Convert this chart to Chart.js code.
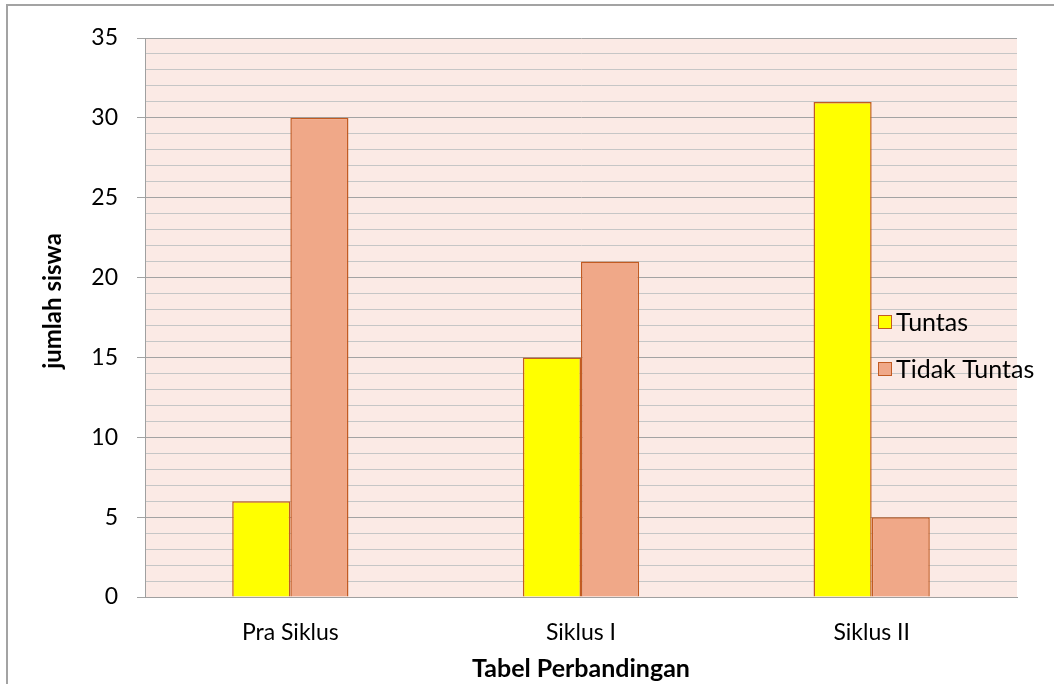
<!DOCTYPE html>
<html>
<head>
<meta charset="utf-8">
<script src="https://cdn.jsdelivr.net/npm/chart.js@4"></script>
<style>
  html, body { margin: 0; padding: 0; background: #fff; }
  #wrap { position: relative; width: 1054px; height: 684px; overflow: hidden; }
  #frame { position: absolute; left: 6px; top: 4px; right: -10px; bottom: -10px;
           border-left: 2px solid #a3a3a3; border-top: 2px solid #a3a3a3; }
  canvas { position: absolute; left: 0; top: 0; }
</style>
</head>
<body>
<div id="wrap">
  <div id="frame"></div>
  <canvas id="chart" width="1054" height="684"></canvas>
</div>
<script>
const categories = ["Pra Siklus", "Siklus I", "Siklus II"];
const tuntas = [6, 15, 31];
const tidakTuntas = [30, 21, 5];
const seriesNames = ["Tuntas", "Tidak Tuntas"];
const yTitle = "jumlah siswa";

const font = "Lato, 'Open Sans', sans-serif";
const edge = "#c25b22";

const plotBg = {
  id: "plotBg",
  beforeDraw(chart) {
    const { ctx, chartArea: a } = chart;
    ctx.save();
    ctx.fillStyle = "#fbeae5";
    ctx.fillRect(a.left, a.top, a.right - a.left, a.bottom - a.top);
    ctx.restore();
  }
};

// legend sits on top of the plot, right side; y title is a bit above centre
const extras = {
  id: "extras",
  afterDraw(chart) {
    const { ctx } = chart;
    const colors = ["#ffff00", "#f0a888"];
    const ys = [322, 369];
    ctx.save();
    ctx.font = "25px " + font;
    ctx.textBaseline = "middle";
    seriesNames.forEach((name, i) => {
      ctx.fillStyle = colors[i];
      ctx.fillRect(878.5, ys[i] - 6.5, 13, 13);
      ctx.strokeStyle = edge;
      ctx.lineWidth = 1;
      ctx.strokeRect(878.5, ys[i] - 6.5, 13, 13);
      ctx.fillStyle = "#000";
      ctx.fillText(name, 896, ys[i] + 1);
    });
    ctx.translate(53, 301);
    ctx.rotate(-Math.PI / 2);
    ctx.font = "bold 24px " + font;
    ctx.textAlign = "center";
    ctx.fillText(yTitle, 0, 0);
    ctx.restore();
  }
};

new Chart(document.getElementById("chart"), {
  type: "bar",
  data: {
    labels: categories,
    datasets: [
      { label: seriesNames[0], data: tuntas, backgroundColor: "#ffff00",
        borderColor: edge, borderWidth: 1.5 },
      { label: seriesNames[1], data: tidakTuntas, backgroundColor: "#f0a888",
        borderColor: edge, borderWidth: 1.5 }
    ]
  },
  options: {
    responsive: false,
    animation: false,
    layout: { padding: { top: 38, right: 37, left: 0, bottom: 0 } },
    datasets: { bar: { categoryPercentage: 0.4, barPercentage: 1 } },
    plugins: { legend: { display: false }, tooltip: { enabled: false } },
    scales: {
      x: {
        grid: { display: false },
        border: { display: true, color: "#a0a0a0" },
        ticks: { color: "#000", font: { family: font, size: 23 }, padding: 14 },
        title: { display: true, text: "Tabel Perbandingan", color: "#000",
                 font: { family: font, size: 25, weight: "bold" }, padding: { bottom: 0 } },
        afterFit(s) { s.height = 87; }
      },
      y: {
        min: 0, max: 35,
        border: { display: true, color: "#a0a0a0" },
        grid: {
          color: c => (c.tick && c.tick.value % 5 === 0) ? "#a3a3a3" : "#c6c6c6",
          tickColor: c => (c.tick && c.tick.value % 5 === 0) ? "#a3a3a3" : "rgba(0,0,0,0)",
          tickLength: 8
        },
        ticks: {
          stepSize: 1, autoSkip: false, color: "#000", padding: 19,
          font: { family: font, size: 23 },
          callback: v => (v % 5 === 0 ? v : "")
        },
        afterFit(s) { s.width = 145; }
      }
    }
  },
  plugins: [plotBg, extras]
});
</script>
</body>
</html>
